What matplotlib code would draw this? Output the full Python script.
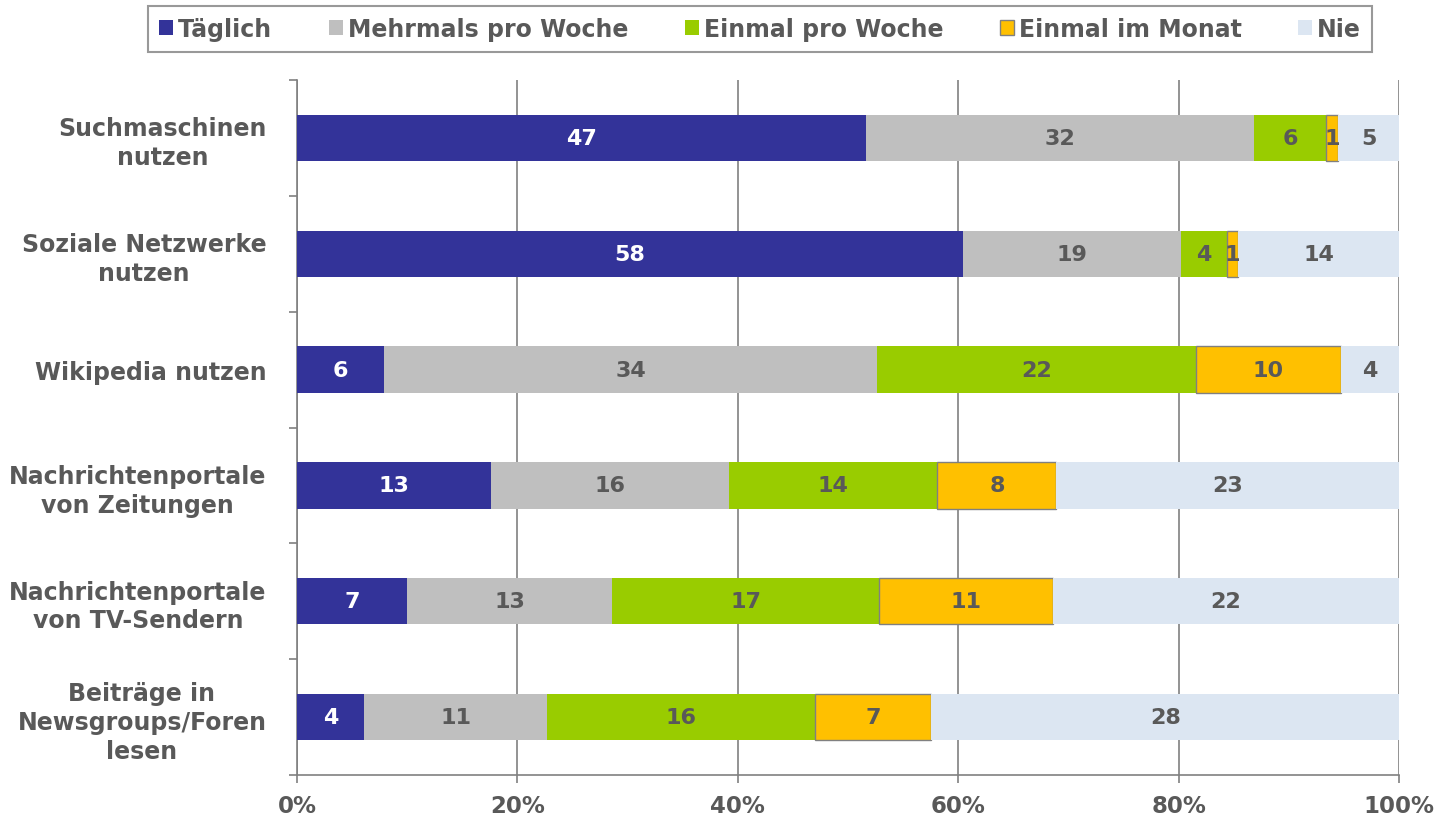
import numpy as np
import matplotlib.pyplot as plt

# Data
categories = ['Suchmaschinen\nnutzen', 'Soziale Netzwerke\nnutzen', 'Wikipedia nutzen',
              'Nachrichtenportale\nvon Zeitungen', 'Nachrichtenportale\nvon TV-Sendern',
              'Beiträge in\nNewsgroups/Foren\nlesen']
series = ['Täglich', 'Mehrmals pro Woche', 'Einmal pro Woche', 'Einmal im Monat', 'Nie']
taeglich = [47, 58, 6, 13, 7, 4]
mehrmals = [32, 19, 34, 16, 13, 11]
einmal_woche = [6, 4, 22, 14, 17, 16]
einmal_monat = [1, 1, 10, 8, 11, 7]
nie = [5, 14, 4, 23, 22, 28]

colors = ['#333399', '#BFBFBF', '#99CC00', '#FFC000', '#DCE6F2']
text_colors = ['white', '#595959', '#595959', '#595959', '#595959']
edge = [None, None, None, '#808080', None]
gray = '#595959'

plt.rcParams['font.family'] = 'DejaVu Sans'
plt.rcParams['font.weight'] = 'bold'

data = np.array([taeglich, mehrmals, einmal_woche, einmal_monat, nie], dtype=float)
totals = data.sum(axis=0)
pct = data / totals * 100

fig = plt.figure(figsize=(14.41, 8.2), dpi=100)
ax = fig.add_axes([297 / 1441, 1 - 776 / 820, (1399 - 297) / 1441, (776 - 81) / 820])

y = np.arange(len(categories))
left = np.zeros(len(categories))
for i, name in enumerate(series):
    bars = ax.barh(y, pct[i], left=left, height=0.4, color=colors[i], label=name,
                   edgecolor=edge[i] if edge[i] else colors[i],
                   linewidth=1 if edge[i] else 0, zorder=3)
    for j, b in enumerate(bars):
        ax.text(left[j] + pct[i][j] / 2, y[j], str(int(data[i][j])), ha='center', va='center',
                color=text_colors[i], fontsize=16, fontweight='bold', zorder=4)
    left += pct[i]

ax.set_xlim(0, 100)
ax.set_ylim(len(categories) - 0.5, -0.5)
ax.set_xticks(np.arange(0, 101, 20))
ax.set_xticklabels([f'{v}%' for v in range(0, 101, 20)], fontsize=16.5, color=gray)
ax.set_yticks(y)
ax.set_yticklabels(categories, fontsize=17, color=gray, linespacing=1.25,
                   multialignment='center')
ax.set_yticks(np.arange(-0.5, len(categories), 1), minor=True)
ax.tick_params(axis='y', which='major', length=0, pad=22)
ax.tick_params(axis='y', which='minor', length=6, color='#808080', width=1.2)
ax.tick_params(axis='x', length=6, color='#808080', width=1.2, pad=8)
ax.xaxis.grid(True, color='#808080', linewidth=1.2, zorder=0)

for s in ['top', 'right']:
    ax.spines[s].set_visible(False)
for s in ['left', 'bottom']:
    ax.spines[s].set_color('#808080')
    ax.spines[s].set_linewidth(1.2)

leg = fig.legend(loc='center', bbox_to_anchor=(760 / 1441, 1 - 30 / 820), ncol=5,
                 fontsize=17, frameon=True, fancybox=False, handlelength=0.6,
                 handleheight=0.6, handletextpad=0.2, columnspacing=2.4,
                 borderpad=0.45, borderaxespad=0, labelcolor=gray)
leg.get_frame().set_edgecolor('#808080')
leg.get_frame().set_linewidth(1.5)

fig.savefig('out.png', dpi=100)
